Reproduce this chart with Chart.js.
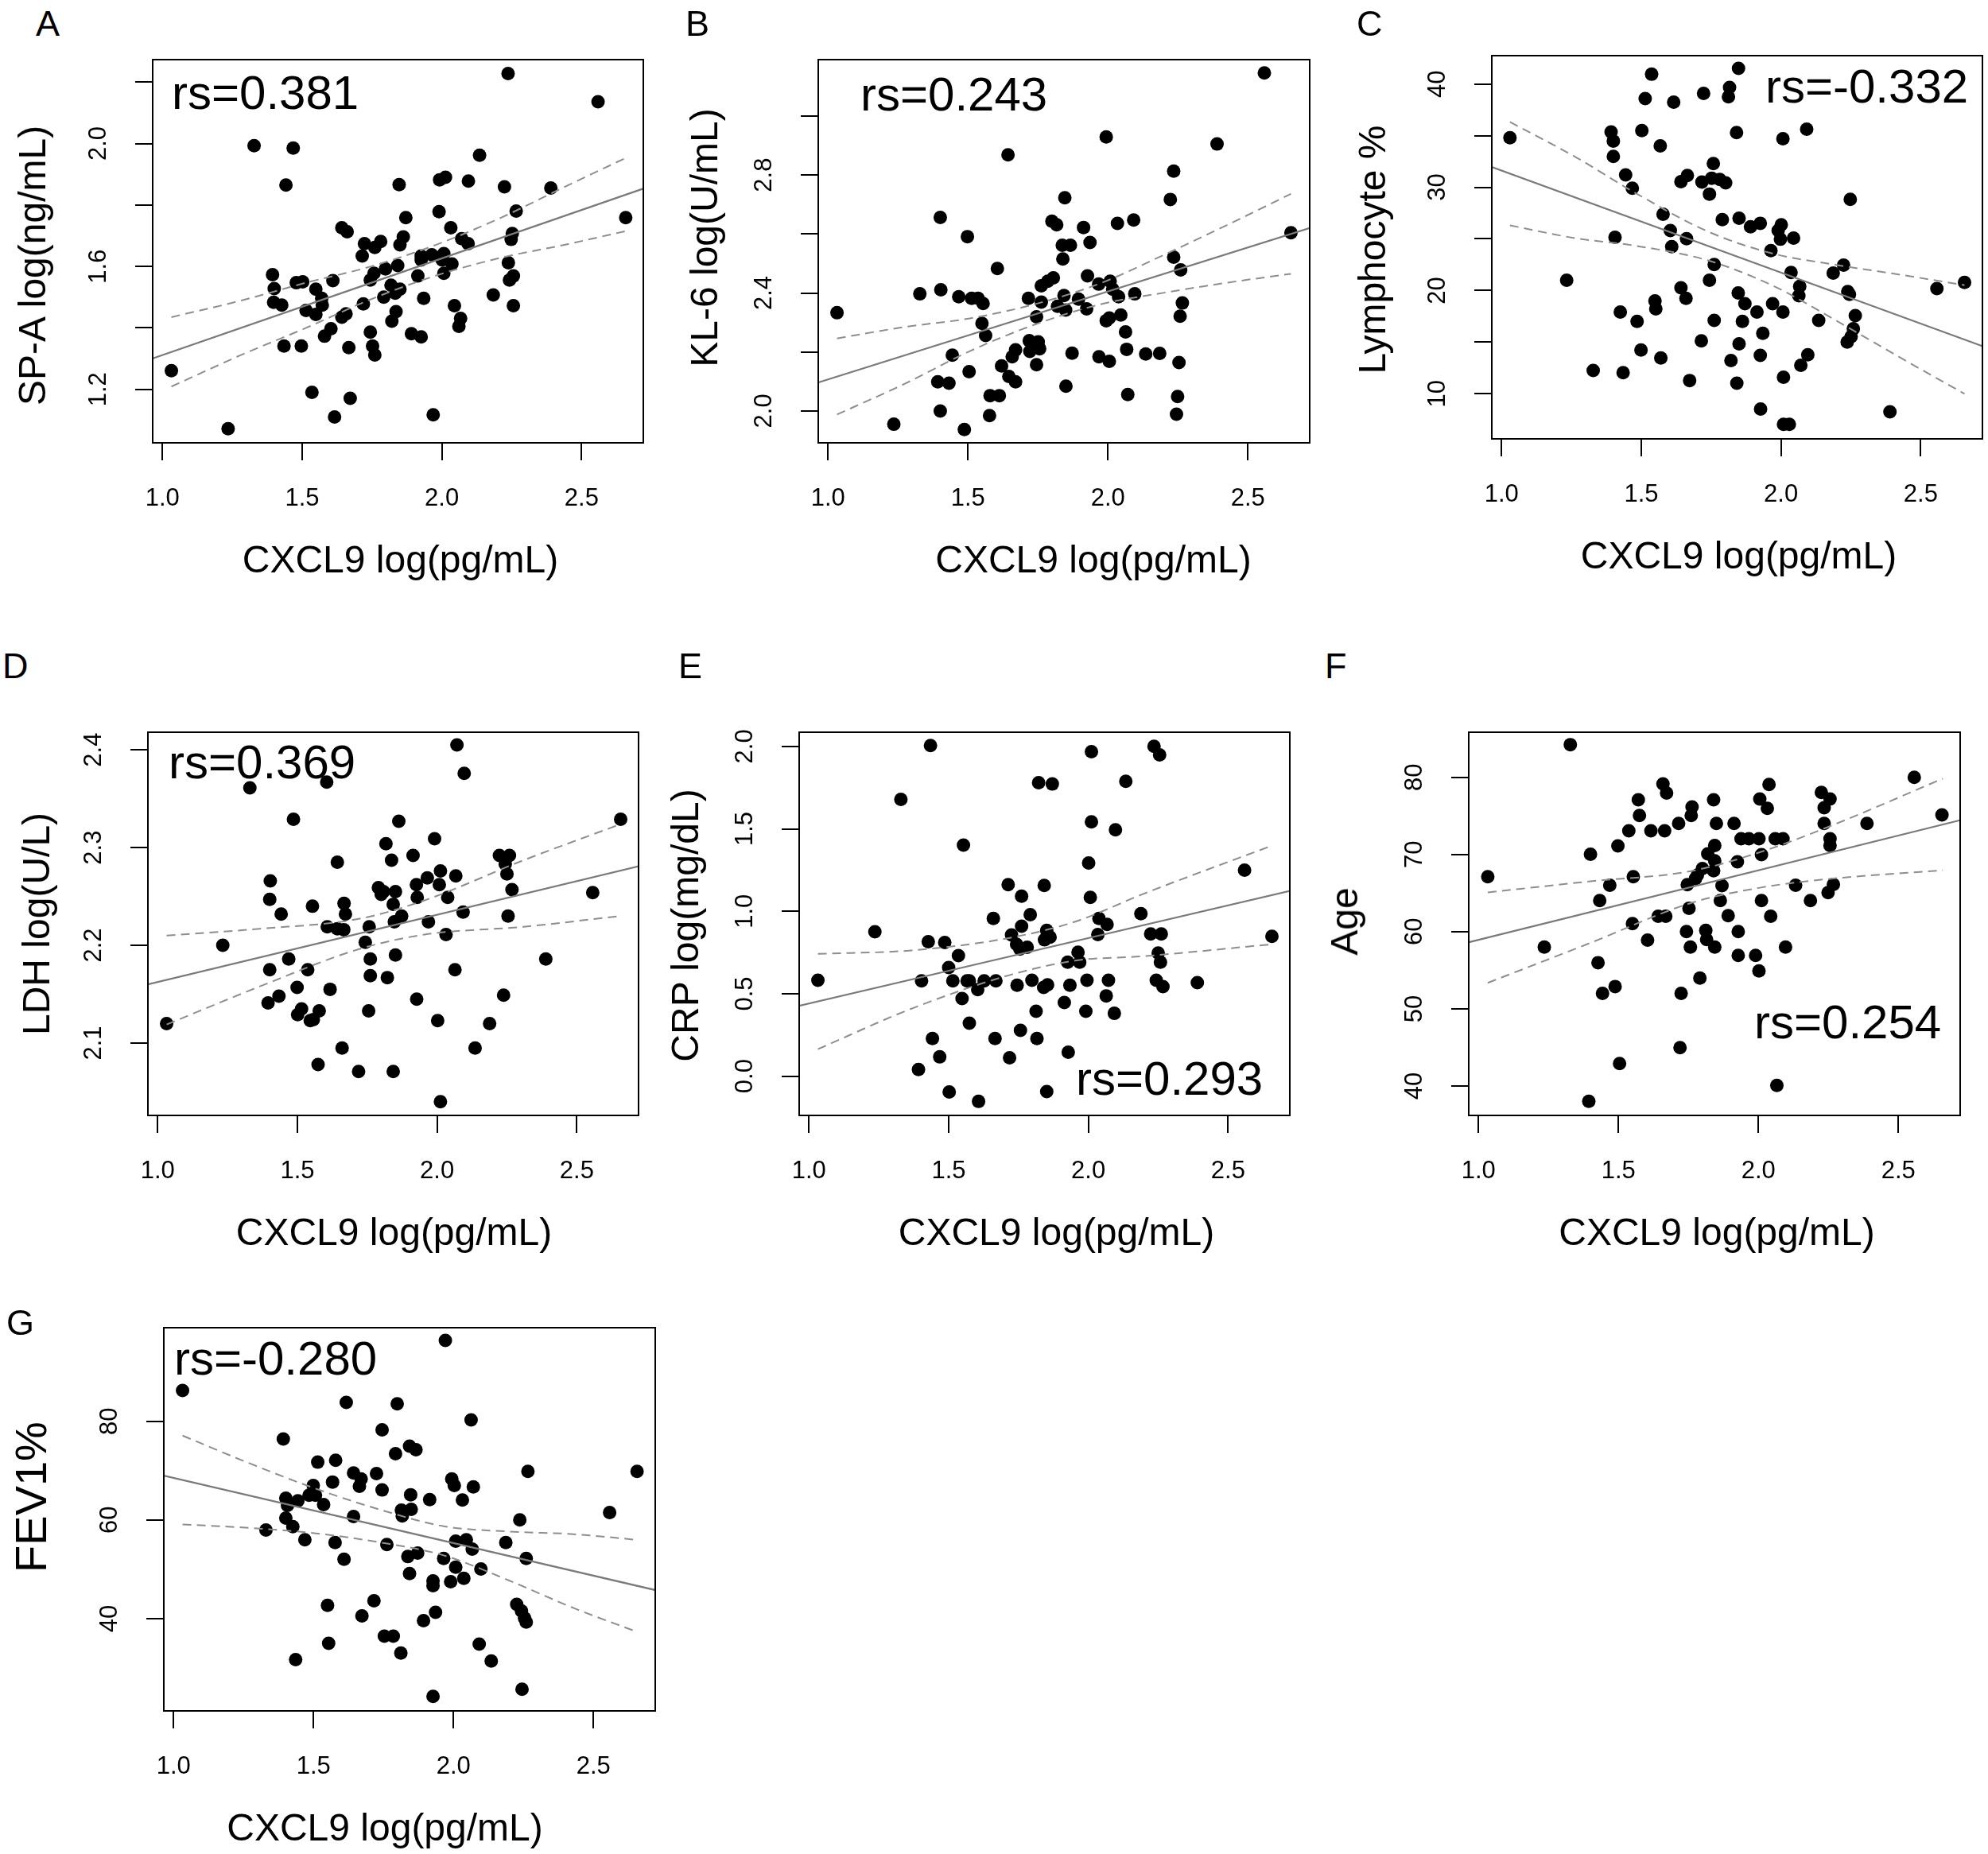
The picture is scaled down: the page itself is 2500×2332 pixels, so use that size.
<!DOCTYPE html>
<html><head><meta charset="utf-8">
<script src="https://cdn.jsdelivr.net/npm/chart.js@4.4.1/dist/chart.umd.min.js"></script>
<style>
html,body{margin:0;padding:0;background:#fff;}
body{width:2500px;height:2332px;position:relative;overflow:hidden;font-family:"Liberation Sans",Arial,sans-serif;}
canvas{position:absolute;}
.txt{position:absolute;white-space:nowrap;line-height:1;color:#000;}
.ctr{position:absolute;white-space:nowrap;line-height:1;color:#000;transform:translate(-50%,-50%);}
.vctr{position:absolute;white-space:nowrap;line-height:1;color:#000;transform:translate(-50%,-50%) rotate(-90deg);}
</style></head><body>
<script>
// ---------------- DATA ----------------
const xTicks = [1.0, 1.5, 2.0, 2.5];
const xTickLabels = ['1.0', '1.5', '2.0', '2.5'];
const xRange = [0.965, 2.721];
const xTitle = 'CXCL9 log(pg/mL)';

// A: SP-A
const spA_points = [[2.237,2.228],[2.559,2.136],[1.328,1.993],[1.468,1.985],[2.135,1.962],[1.442,1.865],[1.847,1.866],[1.992,1.882],[2.013,1.890],[2.095,1.878],[2.224,1.859],[2.390,1.855],[2.658,1.759],[2.266,1.780],[1.990,1.778],[1.871,1.759],[2.032,1.726],[1.642,1.726],[1.661,1.713],[1.723,1.674],[1.781,1.681],[1.760,1.662],[1.862,1.696],[1.850,1.670],[1.715,1.634],[2.071,1.690],[2.094,1.674],[2.252,1.707],[2.248,1.688],[1.926,1.634],[1.926,1.621],[1.964,1.638],[2.007,1.642],[2.001,1.621],[2.036,1.608],[2.007,1.578],[1.914,1.569],[2.238,1.612],[2.256,1.569],[2.242,1.556],[1.842,1.603],[1.798,1.592],[1.757,1.578],[1.744,1.556],[1.394,1.573],[1.610,1.554],[1.479,1.547],[1.502,1.550],[1.400,1.528],[1.549,1.526],[1.570,1.496],[1.572,1.474],[1.398,1.483],[1.427,1.474],[1.818,1.539],[1.850,1.526],[1.833,1.513],[1.792,1.500],[1.935,1.496],[1.719,1.478],[1.514,1.457],[1.549,1.444],[2.184,1.507],[2.256,1.472],[2.045,1.472],[2.067,1.431],[2.061,1.405],[1.836,1.453],[1.821,1.422],[1.642,1.435],[1.657,1.446],[1.603,1.397],[1.580,1.373],[1.744,1.386],[1.891,1.381],[1.926,1.371],[1.435,1.341],[1.497,1.341],[1.667,1.336],[1.752,1.341],[1.760,1.312],[1.032,1.261],[1.535,1.190],[1.672,1.171],[1.616,1.110],[1.969,1.117],[1.235,1.072]];
const spA_fit = [[0.963,1.300],[2.720,1.853]];
const spA_upper = [[1.032,1.435],[1.282,1.489],[1.514,1.547],[1.746,1.600],[1.978,1.670],[2.210,1.758],[2.442,1.860],[2.658,1.953]];
const spA_lower = [[1.032,1.209],[1.282,1.312],[1.514,1.400],[1.746,1.493],[1.978,1.570],[2.210,1.628],[2.442,1.671],[2.658,1.715]];
const spA_yRange = [1.026, 2.273];
const spA_yTicks = [1.2, 1.4, 1.6, 1.8, 2.0, 2.2];
const spA_yLabels = ['1.2', '', '1.6', '', '2.0', ''];

// B: KL-6
const kl6_points = [[2.559,3.146],[1.994,2.929],[1.643,2.868],[2.390,2.905],[2.235,2.813],[2.223,2.717],[1.846,2.723],[1.401,2.656],[1.498,2.591],[1.800,2.643],[1.817,2.631],[1.913,2.622],[2.034,2.636],[2.092,2.647],[1.936,2.571],[1.837,2.562],[1.866,2.562],[1.839,2.515],[2.654,2.604],[2.235,2.521],[2.260,2.478],[1.605,2.483],[1.927,2.458],[1.967,2.430],[2.008,2.440],[1.805,2.451],[1.785,2.440],[1.762,2.424],[1.328,2.397],[1.403,2.411],[1.467,2.387],[1.513,2.382],[1.536,2.382],[1.554,2.364],[1.716,2.382],[1.762,2.369],[1.843,2.391],[1.895,2.379],[1.924,2.346],[1.820,2.355],[1.849,2.342],[2.017,2.413],[2.038,2.387],[2.096,2.397],[1.032,2.333],[2.266,2.366],[2.258,2.321],[1.745,2.319],[2.046,2.325],[1.994,2.306],[2.005,2.315],[1.550,2.297],[1.563,2.256],[2.063,2.268],[1.719,2.238],[1.751,2.234],[1.756,2.211],[1.670,2.207],[1.658,2.184],[1.721,2.202],[1.444,2.189],[1.872,2.196],[1.968,2.184],[2.005,2.168],[2.067,2.209],[2.135,2.193],[2.185,2.195],[2.254,2.164],[1.745,2.157],[1.620,2.153],[1.504,2.133],[1.392,2.099],[1.432,2.094],[1.646,2.117],[1.670,2.099],[1.579,2.052],[1.612,2.052],[1.850,2.084],[2.071,2.056],[2.249,2.049],[1.401,2.000],[1.577,1.984],[2.245,1.989],[1.235,1.955],[1.487,1.937]];
const kl6_fit = [[0.966,2.097],[2.721,2.620]];
const kl6_upper = [[1.032,2.246],[1.276,2.285],[1.507,2.314],[1.739,2.362],[1.971,2.432],[2.202,2.530],[2.434,2.634],[2.654,2.736]];
const kl6_lower = [[1.032,1.988],[1.276,2.093],[1.507,2.203],[1.739,2.293],[1.971,2.361],[2.202,2.401],[2.434,2.436],[2.654,2.465]];
const kl6_yRange = [1.892, 3.191];
const kl6_yTicks = [2.0, 2.2, 2.4, 2.6, 2.8, 3.0];
const kl6_yLabels = ['2.0', '', '2.4', '', '2.8', ''];

// C: Lymphocyte %
const lym_points = [[1.848,41.52],[1.537,40.95],[1.816,39.67],[1.812,38.77],[1.723,39.10],[1.514,38.59],[1.616,38.25],[2.092,35.63],[1.502,35.50],[1.392,35.35],[1.841,35.30],[1.030,34.79],[2.007,34.71],[1.400,34.48],[1.568,34.01],[1.400,32.99],[1.758,32.29],[1.444,31.19],[1.665,31.14],[1.642,30.55],[1.717,30.50],[1.752,30.88],[1.781,30.75],[1.802,30.42],[1.744,29.34],[1.468,29.90],[2.248,28.83],[1.578,27.39],[1.790,26.87],[1.850,27.00],[1.891,26.18],[1.926,26.51],[2.001,26.36],[1.990,25.80],[1.998,24.97],[2.045,25.08],[1.964,23.87],[1.604,25.80],[1.662,25.02],[1.609,24.25],[1.406,25.15],[1.761,22.51],[2.224,22.46],[2.187,21.69],[2.036,21.74],[1.233,20.99],[1.744,20.99],[2.558,20.19],[2.657,20.79],[2.067,20.40],[2.064,19.50],[2.239,19.89],[2.245,19.63],[1.642,20.27],[1.660,19.24],[1.847,19.76],[1.871,18.73],[1.970,18.73],[1.549,18.99],[1.552,18.22],[1.425,17.91],[1.485,17.01],[1.914,17.91],[2.007,17.91],[1.761,17.11],[1.862,17.01],[2.135,17.11],[2.266,17.57],[2.259,16.29],[2.251,15.52],[2.237,15.01],[1.935,15.85],[1.715,15.13],[1.850,14.83],[1.499,14.24],[1.570,13.47],[1.926,13.72],[2.096,13.77],[2.071,12.75],[1.821,13.21],[1.328,12.26],[1.435,12.05],[1.673,11.28],[1.842,11.02],[2.009,11.59],[1.927,8.51],[2.390,8.25],[2.009,7.04],[2.030,7.04]];
const lym_fit = [[0.965,31.96],[2.720,14.62]];
const lym_upper = [[1.030,36.33],[1.270,32.85],[1.468,29.62],[1.734,25.77],[1.966,23.61],[2.198,22.48],[2.430,21.52],[2.657,20.52]];
const lym_lower = [[1.030,26.31],[1.270,25.04],[1.468,24.38],[1.734,22.95],[1.966,20.53],[2.198,17.08],[2.430,13.45],[2.657,9.99]];
const lym_yRange = [5.63, 42.75];
const lym_yTicks = [10, 15, 20, 25, 30, 35, 40];
const lym_yLabels = ['10', '', '20', '', '30', '', '40'];

// D: LDH
const ldh_points = [[2.071,2.405],[2.097,2.376],[1.605,2.367],[1.330,2.361],[1.486,2.329],[1.863,2.327],[2.657,2.329],[1.991,2.309],[1.817,2.304],[1.914,2.292],[1.837,2.287],[1.643,2.285],[2.223,2.292],[2.259,2.292],[2.244,2.283],[2.250,2.273],[2.012,2.276],[2.067,2.271],[1.965,2.269],[2.008,2.262],[1.926,2.262],[1.403,2.266],[1.401,2.247],[1.790,2.259],[1.808,2.255],[1.851,2.255],[1.800,2.252],[1.929,2.249],[2.038,2.249],[2.268,2.257],[2.557,2.254],[1.667,2.243],[1.554,2.240],[1.843,2.242],[1.672,2.232],[1.442,2.232],[2.093,2.234],[1.873,2.230],[1.847,2.224],[1.969,2.224],[2.254,2.230],[1.607,2.219],[1.643,2.217],[1.666,2.216],[1.757,2.219],[2.032,2.211],[1.743,2.203],[1.233,2.200],[1.469,2.186],[1.761,2.186],[1.851,2.190],[2.389,2.186],[1.401,2.175],[1.537,2.175],[2.064,2.175],[1.761,2.169],[1.822,2.167],[1.499,2.157],[1.617,2.155],[1.434,2.148],[1.395,2.141],[1.927,2.145],[2.238,2.149],[1.515,2.135],[1.501,2.129],[1.578,2.133],[1.557,2.124],[1.546,2.123],[1.755,2.133],[1.032,2.120],[2.002,2.123],[2.188,2.120],[1.660,2.095],[2.136,2.095],[1.574,2.078],[1.719,2.071],[1.843,2.071],[2.012,2.040]];
const ldh_fit = [[0.965,2.160],[2.722,2.281]];
const ldh_upper = [[1.032,2.210],[1.366,2.217],[1.719,2.227],[1.955,2.246],[2.309,2.287],[2.657,2.324]];
const ldh_lower = [[1.032,2.119],[1.366,2.158],[1.719,2.196],[1.955,2.211],[2.309,2.219],[2.657,2.230]];
const ldh_yRange = [2.026, 2.418];
const ldh_yTicks = [2.1, 2.2, 2.3, 2.4];
const ldh_yLabels = ['2.1', '2.2', '2.3', '2.4'];

// E: CRP
const crp_points = [[1.435,2.005],[2.011,1.968],[2.235,2.000],[2.255,1.949],[1.822,1.780],[1.871,1.772],[2.134,1.788],[1.329,1.679],[2.011,1.542],[2.097,1.494],[1.553,1.401],[2.001,1.293],[2.559,1.250],[1.713,1.161],[1.842,1.157],[1.761,1.092],[2.007,1.084],[1.660,0.956],[1.792,0.980],[2.038,0.956],[2.067,0.920],[2.188,0.985],[1.761,0.910],[1.236,0.876],[1.725,0.856],[1.851,0.884],[1.863,0.843],[1.843,0.827],[2.034,0.859],[2.223,0.863],[2.261,0.863],[2.657,0.848],[1.427,0.816],[1.486,0.811],[1.743,0.800],[1.781,0.782],[1.755,0.771],[1.535,0.731],[1.963,0.752],[1.926,0.691],[1.969,0.691],[2.250,0.747],[2.258,0.691],[1.500,0.659],[1.032,0.582],[1.403,0.578],[1.515,0.578],[1.566,0.578],[1.574,0.578],[1.627,0.578],[1.669,0.578],[1.604,0.525],[1.745,0.551],[1.798,0.582],[1.840,0.538],[1.854,0.554],[1.934,0.551],[1.995,0.582],[2.072,0.582],[2.243,0.582],[2.267,0.543],[2.390,0.567],[1.548,0.471],[2.064,0.487],[1.914,0.447],[1.813,0.394],[1.991,0.394],[2.093,0.381],[1.574,0.321],[1.757,0.278],[1.442,0.228],[1.666,0.228],[1.816,0.228],[1.468,0.117],[1.718,0.112],[1.928,0.145],[1.392,0.040],[1.502,-0.096],[1.851,-0.093],[1.607,-0.153]];
const crp_fit = [[0.963,0.426],[2.722,1.124]];
const crp_upper = [[1.032,0.742],[1.368,0.763],[1.722,0.840],[1.958,0.940],[2.193,1.103],[2.657,1.398]];
const crp_lower = [[1.032,0.164],[1.368,0.410],[1.722,0.615],[1.958,0.702],[2.193,0.727],[2.657,0.800]];
const crp_yRange = [-0.238, 2.086];
const crp_yTicks = [0.0, 0.5, 1.0, 1.5, 2.0];
const crp_yLabels = ['0.0', '0.5', '1.0', '1.5', '2.0'];

// F: Age
const age_points = [[1.328,84.23],[2.557,80.0],[2.038,79.07],[1.659,79.14],[1.672,77.97],[1.571,77.08],[1.840,77.08],[2.225,78.04],[2.256,77.18],[2.005,77.18],[2.032,75.98],[2.235,76.05],[2.656,75.12],[1.763,76.15],[1.760,75.05],[1.575,75.05],[1.715,74.02],[1.850,74.02],[1.913,74.02],[2.235,74.02],[2.388,74.02],[1.537,73.06],[1.616,73.06],[1.665,73.06],[1.938,72.03],[1.966,72.03],[2.002,72.03],[2.060,72.03],[2.088,72.03],[2.256,72.03],[2.256,71.17],[1.844,71.17],[1.498,71.10],[1.400,70.03],[1.819,70.07],[2.011,69.97],[1.844,69.18],[1.925,69.04],[1.800,68.18],[1.840,67.90],[1.782,67.32],[1.775,66.87],[1.033,67.11],[1.553,67.11],[1.469,66.01],[1.746,66.08],[1.870,65.95],[2.133,66.01],[2.268,66.12],[2.249,65.05],[1.433,64.02],[1.864,64.02],[2.011,64.02],[2.186,64.02],[1.752,63.02],[1.642,61.99],[1.669,61.99],[1.892,62.06],[2.044,61.99],[1.550,61.03],[1.743,60.0],[1.812,60.17],[1.928,60.0],[1.604,58.9],[1.815,58.97],[1.844,58.01],[1.757,58.01],[1.235,58.01],[2.097,58.01],[1.928,56.91],[1.990,56.91],[2.002,54.91],[1.427,55.98],[1.791,53.99],[1.488,52.89],[1.443,51.99],[1.724,51.99],[1.720,44.98],[1.504,42.92],[2.066,40.07],[1.394,38.01]];
const age_fit = [[0.966,58.63],[2.720,74.43]];
const age_upper = [[1.033,65.09],[1.394,66.50],[1.760,67.85],[2.005,70.29],[2.249,73.56],[2.659,79.83]];
const age_lower = [[1.033,53.37],[1.394,58.46],[1.760,63.72],[2.005,65.69],[2.249,66.82],[2.659,67.94]];
const age_yRange = [36.19, 85.84];
const age_yTicks = [40, 50, 60, 70, 80];
const age_yLabels = ['40', '50', '60', '70', '80'];

// G: FEV1%
const fev_points = [[1.971,96.40],[1.032,86.24],[1.617,83.82],[1.799,83.55],[2.063,80.27],[1.392,76.40],[1.745,78.28],[1.843,74.95],[1.866,74.25],[1.793,73.44],[1.515,71.72],[1.579,72.10],[1.643,69.52],[1.670,68.33],[1.725,69.41],[2.266,69.84],[2.656,69.84],[1.994,68.33],[2.003,66.99],[2.071,66.72],[1.568,67.69],[1.499,66.99],[1.664,66.83],[1.745,66.08],[1.847,65.11],[1.915,64.14],[2.032,64.03],[1.401,64.41],[1.444,63.87],[1.484,65.0],[1.507,65.0],[1.407,62.96],[1.536,63.12],[1.814,61.99],[1.849,62.15],[1.817,60.81],[1.643,60.70],[2.237,60.0],[2.558,61.51],[1.401,60.38],[1.426,58.66],[1.330,57.96],[1.469,55.97],[1.577,55.43],[1.762,55.0],[2.008,55.70],[2.046,55.97],[2.067,54.09],[2.187,55.43],[1.609,52.04],[1.837,52.58],[1.872,53.28],[1.965,52.20],[2.260,52.20],[2.008,50.43],[2.098,50.05],[1.843,49.14],[1.927,47.63],[1.927,46.67],[1.990,47.47],[2.037,48.17],[1.550,42.69],[1.716,43.60],[2.226,42.90],[2.243,41.56],[2.254,40.11],[2.260,39.30],[1.673,40.54],[1.936,41.29],[1.893,39.57],[1.753,36.45],[1.785,36.45],[1.554,35.0],[1.812,33.01],[1.436,31.67],[2.092,34.84],[2.135,31.40],[2.245,25.70],[1.927,24.25]];
const fev_fit = [[0.965,68.98],[2.724,45.75]];
const fev_upper = [[1.032,77.10],[1.270,71.51],[1.502,66.46],[1.733,62.17],[1.965,58.73],[2.197,57.66],[2.428,57.13],[2.656,55.97]];
const fev_lower = [[1.032,59.09],[1.270,58.39],[1.502,57.32],[1.733,55.50],[1.965,52.82],[2.197,47.77],[2.428,42.18],[2.656,37.31]];
const fev_yRange = [21.29, 98.98];
const fev_yTicks = [40, 60, 80];
const fev_yLabels = ['40', '60', '80'];

// ---------------- LAYOUT / STYLE ----------------
const FONT = '"Liberation Sans", Arial, sans-serif';
const ML = 200, MT = 20, MR = 20, MB = 200;
const TICK_LEN = 22, TICK_FONT = 31, TITLE_FONT = 48, RS_FONT = 60, LETTER_FONT = 45;
const YLAB_DIST = 68, XLAB_DIST = 70, XTITLE_DIST = 147;

const panels = [
  {letter:'A', box:[192,75,809,557],  letterPos:[45,45],   rsPos:[216,138],  rs:'rs=0.381',  yTitle:'SP-A log(ng/mL)', yTitleDist:151, yTitleShift:18,  xTitleShift:3,   yTitleSize:48, pts:spA_points, fit:spA_fit, up:spA_upper, lo:spA_lower, yr:spA_yRange, yt:spA_yTicks, yl:spA_yLabels},
  {letter:'B', box:[1029,75,1647,557], letterPos:[862,45],  rsPos:[1082,140], rs:'rs=0.243',  yTitle:'KL-6 log(U/mL)',  yTitleDist:143, yTitleShift:-17, xTitleShift:37,  yTitleSize:48, pts:kl6_points, fit:kl6_fit, up:kl6_upper, lo:kl6_lower, yr:kl6_yRange, yt:kl6_yTicks, yl:kl6_yLabels},
  {letter:'C', box:[1876,70,2493,552], letterPos:[1706,45], rsPos:[2220,130], rs:'rs=-0.332', yTitle:'Lymphocyte %',    yTitleDist:150, yTitleShift:3,   xTitleShift:2,   yTitleSize:48, pts:lym_points, fit:lym_fit, up:lym_upper, lo:lym_lower, yr:lym_yRange, yt:lym_yTicks, yl:lym_yLabels},
  {letter:'D', box:[186,921,803,1403], letterPos:[3,853],   rsPos:[212,980],  rs:'rs=0.369',  yTitle:'LDH log(U/L)',    yTitleDist:140, yTitleShift:0,   xTitleShift:1,   yTitleSize:48, pts:ldh_points, fit:ldh_fit, up:ldh_upper, lo:ldh_lower, yr:ldh_yRange, yt:ldh_yTicks, yl:ldh_yLabels},
  {letter:'E', box:[1005,921,1622,1403], letterPos:[853,853], rsPos:[1353,1378], rs:'rs=0.293', yTitle:'CRP log(mg/dL)', yTitleDist:143, yTitleShift:2,  xTitleShift:15,  yTitleSize:48, pts:crp_points, fit:crp_fit, up:crp_upper, lo:crp_lower, yr:crp_yRange, yt:crp_yTicks, yl:crp_yLabels},
  {letter:'F', box:[1847,921,2465,1403], letterPos:[1666,853], rsPos:[2206,1307], rs:'rs=0.254', yTitle:'Age',          yTitleDist:156, yTitleShift:-3, xTitleShift:3,   yTitleSize:48, pts:age_points, fit:age_fit, up:age_upper, lo:age_lower, yr:age_yRange, yt:age_yTicks, yl:age_yLabels},
  {letter:'G', box:[206,1670,824,2152], letterPos:[8,1679], rsPos:[219,1730], rs:'rs=-0.280', yTitle:'FEV1%',            yTitleDist:167, yTitleShift:-28, xTitleShift:-31, yTitleSize:56, pts:fev_points, fit:fev_fit, up:fev_upper, lo:fev_lower, yr:fev_yRange, yt:fev_yTicks, yl:fev_yLabels}
];

Chart.defaults.font.family = FONT;
Chart.defaults.color = '#000';

const measCtx = document.createElement('canvas').getContext('2d');
function textWidth(t, size){ measCtx.font = size + 'px ' + FONT; return measCtx.measureText(t).width; }
function toXY(arr){ return arr.map(p => ({x:p[0], y:p[1]})); }
function addText(str, left, baseline, size){
  const d = document.createElement('div');
  d.className = 'txt';
  d.textContent = str;
  d.style.fontSize = size + 'px';
  d.style.left = left + 'px';
  d.style.top = (baseline - 0.8465 * size) + 'px';
  document.body.appendChild(d);
}
function addCentered(str, cx, cy, size, vertical){
  const d = document.createElement('div');
  d.className = vertical ? 'vctr' : 'ctr';
  d.textContent = str;
  d.style.fontSize = size + 'px';
  d.style.left = cx + 'px';
  d.style.top = cy + 'px';
  document.body.appendChild(d);
}

const framePlugin = {
  id: 'frame',
  afterDraw(chart){
    const a = chart.chartArea, ctx = chart.ctx;
    ctx.save();
    ctx.strokeStyle = '#000';
    ctx.lineWidth = 2;
    ctx.strokeRect(a.left, a.top, a.right - a.left, a.bottom - a.top);
    ctx.restore();
  }
};

panels.forEach(p => {
  const bw = p.box[2] - p.box[0], bh = p.box[3] - p.box[1];
  const W = bw + ML + MR, H = bh + MT + MB;
  const cv = document.createElement('canvas');
  cv.width = W; cv.height = H;
  cv.style.left = (p.box[0] - ML) + 'px';
  cv.style.top = (p.box[1] - MT) + 'px';
  cv.style.width = W + 'px'; cv.style.height = H + 'px';
  document.body.appendChild(cv);

  const widest = Math.max(...p.yl.map(s => textWidth(s, TICK_FONT)));
  const yTickPad = YLAB_DIST - TICK_LEN - widest / 2;
  const xTickPad = XLAB_DIST - TICK_LEN - 0.6 * TICK_FONT;

  const lineDs = (arr, dashed) => ({
    data: toXY(arr), showLine: true, pointRadius: 0, pointHoverRadius: 0,
    borderColor: dashed ? '#8e8e8e' : '#7a7a7a', borderWidth: dashed ? 2 : 2.2,
    borderDash: dashed ? [11, 7] : [], cubicInterpolationMode: 'monotone', fill: false, order: 0
  });

  new Chart(cv, {
    type: 'scatter',
    data: { datasets: [
      { data: toXY(p.pts), pointRadius: 8.5, pointHoverRadius: 8.5, pointBackgroundColor: '#000', pointBorderWidth: 0, showLine: false, order: 1 },
      lineDs(p.fit, false),
      lineDs(p.up, true),
      lineDs(p.lo, true)
    ]},
    options: {
      responsive: false, animation: false, devicePixelRatio: 1,
      layout: { padding: { left: 0, top: MT, right: MR, bottom: 0 } },
      plugins: { legend: { display: false }, tooltip: { enabled: false } },
      events: [],
      scales: {
        x: {
          type: 'linear', position: 'bottom', min: xRange[0], max: xRange[1],
          afterFit(s){ s.height = MB; s.paddingLeft = 0; s.paddingRight = 0; s.paddingTop = 0; s.paddingBottom = 0; },
          afterBuildTicks(s){ s.ticks = xTicks.map(v => ({value: v})); },
          ticks: { autoSkip: false, minRotation: 0, maxRotation: 0, padding: xTickPad, color: '#000',
                   font: { family: FONT, size: TICK_FONT }, callback: (v, i) => xTickLabels[i] },
          grid: { display: true, drawOnChartArea: false, drawTicks: true, tickLength: TICK_LEN, tickWidth: 2, tickColor: '#000', color: '#000', lineWidth: 2 },
          border: { display: true, color: '#000', width: 2 },
          title: { display: false }
        },
        y: {
          type: 'linear', position: 'left', min: p.yr[0], max: p.yr[1],
          afterFit(s){ s.width = ML; s.paddingTop = 0; s.paddingBottom = 0; s.paddingLeft = 0; s.paddingRight = 0; },
          afterBuildTicks(s){ s.ticks = p.yt.map(v => ({value: v})); },
          ticks: { autoSkip: false, minRotation: 90, maxRotation: 90, crossAlign: 'center', padding: yTickPad, color: '#000',
                   font: { family: FONT, size: TICK_FONT }, callback: (v, i) => p.yl[i] },
          grid: { display: true, drawOnChartArea: false, drawTicks: true, tickLength: TICK_LEN, tickWidth: 2, tickColor: '#000', color: '#000', lineWidth: 2 },
          border: { display: true, color: '#000', width: 2 },
          title: { display: false }
        }
      }
    },
    plugins: [framePlugin]
  });

  // axis titles, panel letters, correlation labels
  addCentered(xTitle, (p.box[0] + p.box[2]) / 2 + p.xTitleShift, p.box[3] + XTITLE_DIST, TITLE_FONT, false);
  addCentered(p.yTitle, p.box[0] - p.yTitleDist, (p.box[1] + p.box[3]) / 2 + p.yTitleShift, p.yTitleSize, true);
  addText(p.letter, p.letterPos[0], p.letterPos[1], LETTER_FONT);
  addText(p.rs, p.rsPos[0], p.rsPos[1], RS_FONT);
});
</script>
</body></html>
